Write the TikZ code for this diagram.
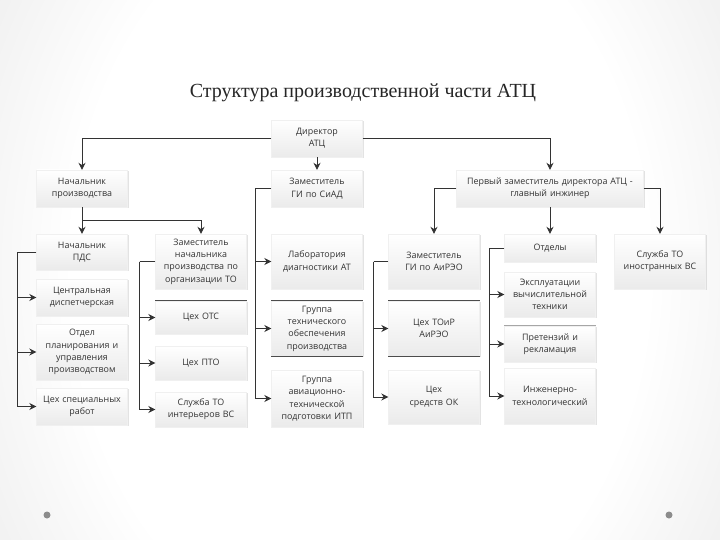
\documentclass[tikz,border=0pt]{standalone}
\usepackage{fontspec}
\setmainfont{Liberation Serif}
\newfontfamily\boxfont{Open Sans}
\usetikzlibrary{positioning, arrows.meta, calc, shadows}

\pgfdeclareradialshading{slidebg}{\pgfpoint{0bp}{0bp}}{color(0bp)=(white); color(20bp)=(white); color(50bp)=(black!18)}

\begin{document}
\begin{tikzpicture}[
    x=1pt, y=-1pt,
    >={Stealth[length=7pt, width=7pt]},
    box/.style={align=center, text width=89pt, minimum width=91pt, inner sep=1pt,
                font=\boxfont\fontsize{8.9}{12.3}\selectfont, text=black!80,
                top color=white, bottom color=black!8, draw=black!6,
                drop shadow={opacity=0.22, shadow xshift=1.3pt, shadow yshift=-1.3pt}},
    ttl/.style={font=\fontsize{20}{24}\selectfont, text=black!85},
    arr/.style={->, line width=0.9pt, draw=black!80},
    bus/.style={line width=0.9pt, draw=black!80},
    rule/.style={draw=black!70, line width=0.8pt},
    toprule/.style={append after command={(\tikzlastnode.north west) edge[rule] (\tikzlastnode.north east)}},
    botrule/.style={append after command={(\tikzlastnode.south west) edge[rule] (\tikzlastnode.south east)}},
]

% ── slide background ─────────────────────────────────────────────────────────
\begin{scope}
  \clip (0,0) rectangle (720,540);
  \shade[shading=slidebg] (0,-200) rectangle (720,740);
\end{scope}
\useasboundingbox (0,0) rectangle (720,540);
\fill[black!45] (47,515) circle (3.5);
\fill[black!45] (669,515) circle (3.5);

\node[ttl] (title) at (363,93) {Структура производственной части АТЦ};

% ── top levels ───────────────────────────────────────────────────────────────
\node[box, minimum height=37] (dir) at (317,138.5) {Директор\\АТЦ};
\node[box, minimum height=37] (nprod) at (82,188.5) {Начальник\\производства};
\node[box, minimum height=37] (siad) at (317,188.5) {Заместитель\\ГИ по СиАД};
\node[box, minimum height=37, text width=185pt, minimum width=187pt] (first) at (550,188.5)
    {Первый заместитель директора АТЦ -\\главный инжинер};

% ── column 1: production ─────────────────────────────────────────────────────
\node[box, minimum height=36] (pds) at (82,252) {Начальник\\ПДС};
\node[box, minimum height=37] (disp) at (82,297.5) {Центральная\\диспетчерская};
\node[box, minimum height=56] (plan) at (82,352) {Отдел\\планирования и\\управления\\производством};
\node[box, minimum height=37] (spec) at (82,406.5) {Цех специальных\\работ};

% ── column 2: deputy for maintenance ─────────────────────────────────────────
\node[box, minimum height=55] (zamto) at (201,261.5) {Заместитель\\начальника\\производства по\\организации ТО};
\node[box, minimum height=33, toprule] (ots) at (201,317.5) {Цех ОТС};
\node[box, minimum height=34] (pto) at (201,363) {Цех ПТО};
\node[box, minimum height=35] (intr) at (201,409.5) {Служба ТО\\интерьеров ВС};

% ── column 3: SiAD ───────────────────────────────────────────────────────────
\node[box, minimum height=55] (lab) at (317,261.5) {Лаборатория\\диагностики АТ};
\node[box, minimum height=55, toprule, botrule] (grte) at (317,328.5)
    {Группа\\технического\\обеспечения\\производства};
\node[box, minimum height=57] (grav) at (317,398.5)
    {Группа\\авиационно-\\технической\\подготовки ИТП};

% ── column 4: AiREO ──────────────────────────────────────────────────────────
\node[box, minimum height=55] (airo) at (434,261.5) {Заместитель\\ГИ по АиРЭО};
\node[box, minimum height=55, toprule, botrule] (toir) at (434,328.5) {Цех ТОиР\\АиРЭО};
\node[box, minimum height=54] (ok) at (434,397) {Цех\\средств ОК};

% ── column 5: departments ────────────────────────────────────────────────────
\node[box, minimum height=28] (otd) at (550,248) {Отделы};
\node[box, minimum height=45] (evt) at (550,294.5) {Эксплуатации\\вычислительной\\техники};
\node[box, minimum height=36, append after command={(\tikzlastnode.north west) edge[draw=black!35, line width=0.8pt] (\tikzlastnode.north east)}] (pret) at (550,344)
    {Претензий и\\рекламация};
\node[box, minimum height=56] (ing) at (550,396) {Инженерно-\\технологический};

% ── column 6 ─────────────────────────────────────────────────────────────────
\node[box, minimum height=55] (foreign) at (660,261.5) {Служба ТО\\иностранных ВС};

% ── edges ────────────────────────────────────────────────────────────────────
\draw[arr] (dir.west) -| (nprod.north);
\draw[arr] (dir.east) -| (first.north);
\draw[arr] (dir) -- (siad);

\draw[arr] (nprod) -- (pds);
\coordinate (split) at ($(nprod.south)+(0,13)$);
\draw[arr] (split) -| (zamto.north);

\draw[arr] (first.west) -| (airo.north);
\draw[arr] (first) -- (otd);
\draw[arr] (first.east) -| (foreign.north);

\coordinate (busA) at ([xshift=-19pt]pds.west);
\draw[bus] (pds.west) -- (busA);
\foreach \n in {disp, plan, spec} \draw[arr] (busA) |- (\n.west);

\coordinate (busB) at ([xshift=-15.5pt]zamto.west);
\draw[bus] (zamto.west) -- (busB);
\foreach \n in {ots, pto, intr} \draw[arr] (busB) |- (\n.west);

\coordinate (busC) at ([xshift=-15.5pt]siad.west);
\draw[bus] (siad.west) -- (busC);
\foreach \n in {lab, grte, grav} \draw[arr] (busC) |- (\n.west);

\coordinate (busD) at ([xshift=-14.5pt]airo.west);
\draw[bus] (airo.west) -- (busD);
\foreach \n in {toir, ok} \draw[arr] (busD) |- (\n.west);

\coordinate (busE) at ([xshift=-14.5pt]otd.west);
\draw[bus] (otd.west) -- (busE);
\foreach \n in {evt, pret, ing} \draw[arr] (busE) |- (\n.west);

\end{tikzpicture}
\end{document}
